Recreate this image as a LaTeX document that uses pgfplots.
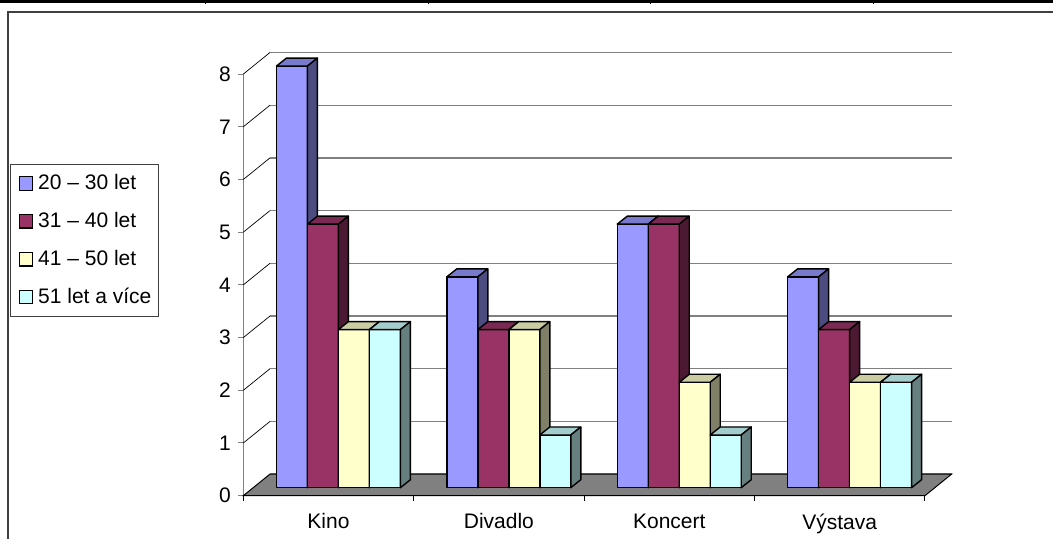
\documentclass[border=0pt]{standalone}
\usepackage{fontspec}
\setmainfont{Liberation Sans}
\usepackage{pgfplots}
\pgfplotsset{compat=1.18}
\usepackage{pgfplotstable}

\definecolor{sAf}{HTML}{9999FF}\definecolor{sAt}{HTML}{7A7ACC}\definecolor{sAs}{HTML}{4C4C80}
\definecolor{sBf}{HTML}{993366}\definecolor{sBt}{HTML}{7A2952}\definecolor{sBs}{HTML}{4C1933}
\definecolor{sCf}{HTML}{FFFFCC}\definecolor{sCt}{HTML}{CCCCA3}\definecolor{sCs}{HTML}{808066}
\definecolor{sDf}{HTML}{CCFFFF}\definecolor{sDt}{HTML}{A3CCCC}\definecolor{sDs}{HTML}{668080}
\definecolor{floorgray}{HTML}{808080}
\definecolor{gridgray}{HTML}{808080}
\definecolor{framegray}{HTML}{404040}

\newcommand\fsz{\fontsize{10.5pt}{12.6pt}\selectfont}

\pgfdeclareplotmark{nothing}{}

\pgfplotstableread{
x a b c d
0.5 8 5 3 3
1.5 4 3 3 1
2.5 5 5 2 1
3.5 4 3 2 2
}\datatable

\pgfplotsset{
  box3d/.style n args={4}{
    scatter, only marks, mark=nothing,
    visualization depends on={rawy \as \rawy},
    scatter/@pre marker code/.code={%
      \pgfmathsetmacro\hh{\rawy*26.35}%
      \pgfmathsetmacro\B{4-\hh}%
      \pgfmathsetmacro\BB{8-\hh}%
      \pgfmathsetmacro\R{#1+15.5}%
      \pgfmathsetmacro\RR{#1+20.5}%
      \pgfmathsetmacro\LL{#1+5}%
      \filldraw[fill=#2,draw=black,line width=0.7pt,line join=round] (#1pt,\B pt) rectangle (\R pt,4pt);
      \filldraw[fill=#3,draw=black,line width=0.7pt,line join=round] (#1pt,4pt) -- (\R pt,4pt) -- (\RR pt,8pt) -- (\LL pt,8pt) -- cycle;
      \filldraw[fill=#4,draw=black,line width=0.7pt,line join=round] (\R pt,\B pt) -- (\RR pt,\BB pt) -- (\RR pt,8pt) -- (\R pt,4pt) -- cycle;
    },
    scatter/@post marker code/.code={},
    legend image code/.code={\path (0pt,0pt) (9.7pt,0pt);\draw[fill=#2,draw=black,line width=0.6pt] (2.5pt,-3.35pt) rectangle (9.2pt,3.35pt);},
  }
}

\begin{document}
\begin{tikzpicture}
\useasboundingbox (0,0) rectangle (526.5pt,269.5pt);
\fill[white] (0,0) rectangle (526.5pt,269.5pt);
% top rule and frame
\draw[black,line width=1.35pt] (0,268.85pt) -- (526.5pt,268.85pt);
\foreach \xx in {102.5,214,325,436.5} \draw[black,line width=0.5pt] (\xx pt,269.5pt) -- (\xx pt,267.5pt);
\draw[framegray,line width=1pt] (3.75pt,0) -- (3.75pt,263.5pt) -- (527pt,263.5pt);

% back wall grid
\begin{axis}[
  at={(135pt,32.45pt)}, anchor=south west,
  x=85.2pt, y=26.35pt,
  xmin=0, xmax=4, ymin=0, ymax=8,
  axis line style={draw=none},
  xtick=\empty, ytick={0,1,...,8}, yticklabel=\empty,
  major tick length=0pt,
  ymajorgrids, grid style={color=gridgray, line width=0.65pt},
]
\addplot[draw=none, forget plot] coordinates {(0,0)};
\end{axis}

% main front axis
\begin{axis}[
  at={(121.65pt,21.65pt)}, anchor=south west,
  x=85.2pt, y=26.35pt,
  xmin=0, xmax=4, ymin=0, ymax=8,
  clip=false,
  axis lines*=left,
  axis line style={draw=gridgray, line width=0.5pt},
  tick align=outside,
  major tick length=2.7pt,
  xtick={0,1,2,3,4}, xticklabel=\empty,
  extra x ticks={0.5,1.5,2.5,3.5},
  extra x tick labels={Kino,Divadlo,Koncert,Výstava},
  extra x tick style={major tick length=0pt},
  xticklabel style={yshift=-5.5pt},
  x tick style={black, line width=0.5pt},
  ytick={0,1,...,8},
  y tick style={gridgray, line width=0.5pt},
  /pgf/number format/assume math mode=true,
  every tick label/.append style={font=\fsz, text=black},
  legend style={at={(axis description cs:-0.3423,0.7868)}, anchor=north west,
    draw=framegray, line width=0.5pt, font=\fsz,
    inner xsep=1.65pt, inner ysep=3pt, row sep=5.8pt,
    nodes={inner sep=2pt, text depth=0.15em}},
  legend cell align=left,
]
\addplot[fill=floorgray, draw=black, line width=0.5pt, forget plot] coordinates {(0,0) (4,0) (4.1567,0.4099) (0.1567,0.4099)} -- cycle;
\addplot[black, line width=0.35pt, quiver={u=0.1567, v=0.4099}, forget plot] coordinates {(0,1) (0,2) (0,3) (0,4) (0,5) (0,6) (0,7) (0,8)};
\addplot[box3d={-26.05}{sAf}{sAt}{sAs}] table[x=x, y=a] {\datatable};
\addlegendentry{20 – 30 let}
\addplot[box3d={-10.55}{sBf}{sBt}{sBs}] table[x=x, y=b] {\datatable};
\addlegendentry{31 – 40 let}
\addplot[box3d={4.95}{sCf}{sCt}{sCs}] table[x=x, y=c] {\datatable};
\addlegendentry{41 – 50 let}
\addplot[box3d={20.45}{sDf}{sDt}{sDs}] table[x=x, y=d] {\datatable};
\addlegendentry{51 let a více}
\end{axis}
\end{tikzpicture}
\end{document}
